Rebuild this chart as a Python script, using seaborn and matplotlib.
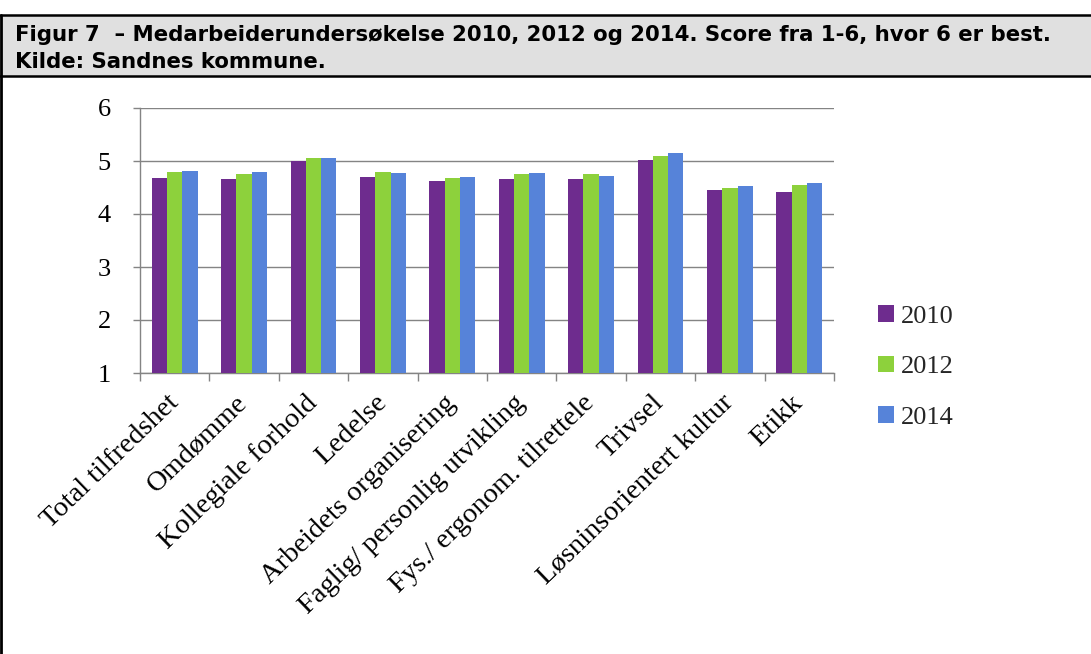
import matplotlib
matplotlib.use("Agg")
import matplotlib.pyplot as plt
from matplotlib.patches import Rectangle
from matplotlib.lines import Line2D
from matplotlib.ticker import FixedLocator
import numpy as np
import pandas as pd
import seaborn as sns

# Survey dimensions and average scores (scale 1-6)
categories = [
    "Total tilfredshet",
    "Omdømme",
    "Kollegiale forhold",
    "Ledelse",
    "Arbeidets organisering",
    "Faglig/ personlig utvikling",
    "Fys./ ergonom. tilrettele",
    "Trivsel",
    "Løsninsorientert kultur",
    "Etikk",
]
years = ["2010", "2012", "2014"]
scores_2010 = [4.68, 4.66, 5.00, 4.69, 4.62, 4.66, 4.66, 5.02, 4.45, 4.42]
scores_2012 = [4.79, 4.76, 5.05, 4.79, 4.67, 4.75, 4.76, 5.10, 4.49, 4.55]
scores_2014 = [4.82, 4.79, 5.06, 4.78, 4.69, 4.78, 4.71, 5.15, 4.52, 4.59]
y_ticks = [1, 2, 3, 4, 5, 6]

title_line1 = "Figur 7  – Medarbeiderundersøkelse 2010, 2012 og 2014. Score fra 1-6, hvor 6 er best."
title_line2 = "Kilde: Sandnes kommune."

colors = ["#6E2C8E", "#8DD13C", "#5683D9"]

df = pd.DataFrame({
    "kategori": categories * 3,
    "år": [years[0]] * len(categories) + [years[1]] * len(categories) + [years[2]] * len(categories),
    "score": scores_2010 + scores_2012 + scores_2014,
})

sns.set_theme(style="white")
plt.rcParams["font.family"] = ["Liberation Serif", "DejaVu Serif"]

W, H = 1091, 654
fig = plt.figure(figsize=(W / 100, H / 100), dpi=100)
fig.patch.set_facecolor("white")

# Header box with caption
hdr_top, hdr_bot = 15, 76
fig.patches.append(Rectangle((0, 1 - hdr_bot / H), 1, (hdr_bot - hdr_top) / H,
                             transform=fig.transFigure, facecolor="#E0E0E0",
                             edgecolor="none", zorder=0))
for yy in (hdr_top, hdr_bot):
    fig.lines.append(Line2D([0, 1], [1 - yy / H, 1 - yy / H], transform=fig.transFigure,
                            color="black", lw=1.8))
fig.lines.append(Line2D([1 / W, 1 / W], [0, 1 - hdr_top / H], transform=fig.transFigure,
                        color="black", lw=2.0))
fig.text(15 / W, 1 - 41 / H, title_line1, fontfamily="DejaVu Sans", fontweight="bold",
         fontsize=15.3, color="black", va="baseline", ha="left")
fig.text(15 / W, 1 - 68 / H, title_line2, fontfamily="DejaVu Sans", fontweight="bold",
         fontsize=15.3, color="black", va="baseline", ha="left")

# Plot area
ax_l, ax_r, ax_t, ax_b = 140, 834, 108, 373
ax = fig.add_axes([ax_l / W, 1 - ax_b / H, (ax_r - ax_l) / W, (ax_b - ax_t) / H])

sns.barplot(data=df, x="kategori", y="score", hue="år", palette=colors,
            width=0.66, gap=0, saturation=1, linewidth=0, edgecolor="none",
            ax=ax, legend=True, zorder=3)

ax.set_ylim(1, 6)
ax.set_xlim(-0.5, len(categories) - 0.5)
ax.set_yticks(y_ticks)
ax.set_xlabel("")
ax.set_ylabel("")
ax.yaxis.grid(True, color="#848484", lw=1.0, zorder=0)
ax.xaxis.grid(False)
ax.set_axisbelow(True)
for side in ("top", "right"):
    ax.spines[side].set_visible(False)
for side in ("left", "bottom"):
    ax.spines[side].set_color("#848484")
    ax.spines[side].set_linewidth(1.0)

ax.tick_params(axis="y", which="major", left=True, length=5, width=1, color="#848484",
               pad=16, labelsize=19, labelcolor="black")
ax.tick_params(axis="x", which="major", bottom=False, length=0, pad=19)
ax.xaxis.set_minor_locator(FixedLocator(np.arange(-0.5, len(categories), 1.0)))
ax.tick_params(axis="x", which="minor", bottom=True, length=6, width=1, color="#848484")
ax.set_xticks(range(len(categories)))
ax.set_xticklabels(categories, rotation=44, ha="right", va="center",
                   rotation_mode="anchor", fontsize=20.5, color="black")

leg = ax.legend(loc="center left", bbox_to_anchor=(865 / W, 1 - 367 / H),
                bbox_transform=fig.transFigure, frameon=False, fontsize=19,
                handlelength=0.6, handleheight=0.6, handletextpad=0.25,
                labelspacing=1.05, borderpad=0)

fig.savefig("out.png", dpi=100, facecolor="white")
